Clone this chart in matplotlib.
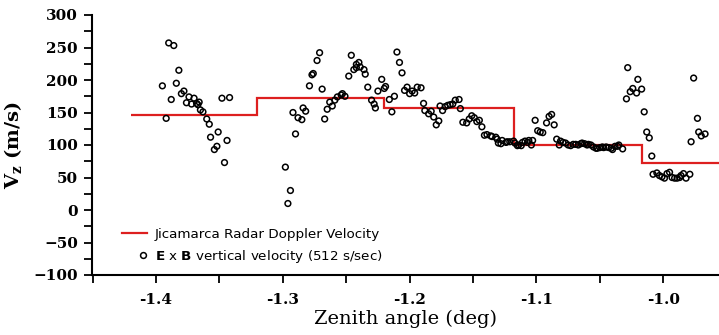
import matplotlib
matplotlib.use("Agg")
import matplotlib.pyplot as plt
from matplotlib.lines import Line2D
from matplotlib.legend_handler import HandlerLine2D
from matplotlib.ticker import MultipleLocator, FormatStrFormatter

# Radar Doppler vertical velocity: piecewise-constant over zenith-angle bins
radar_edges = [-1.42, -1.32, -1.22, -1.118, -1.017, -0.95]
radar_vz = [146, 172, 157, 100, 73]

# E x B vertical velocity samples (512 s/sec)
zenith = [
    -1.390, -1.386, -1.382, -1.395, -1.384, -1.388, -1.392, -1.380, -1.378, -1.374,
    -1.370, -1.376, -1.372, -1.368, -1.366, -1.367, -1.365, -1.363, -1.360, -1.358,
    -1.357, -1.351, -1.352, -1.354, -1.344, -1.346, -1.348, -1.342,
    -1.298, -1.294, -1.296, -1.292, -1.290, -1.288, -1.285, -1.284, -1.282, -1.279,
    -1.277, -1.276, -1.273, -1.271, -1.269, -1.267, -1.265, -1.263, -1.261, -1.259,
    -1.257, -1.254, -1.253, -1.251,
    -1.248, -1.246, -1.244, -1.242, -1.240, -1.242, -1.239, -1.236, -1.235, -1.233,
    -1.230, -1.228, -1.227, -1.225, -1.222, -1.220, -1.219, -1.216, -1.214, -1.212,
    -1.210, -1.208, -1.206, -1.204, -1.202, -1.200, -1.198, -1.196, -1.194, -1.191,
    -1.189, -1.188, -1.185, -1.183, -1.181, -1.179, -1.177, -1.176, -1.174, -1.172,
    -1.170, -1.168, -1.166, -1.164, -1.161, -1.160, -1.158, -1.155, -1.153, -1.151,
    -1.149, -1.147, -1.145, -1.143, -1.141, -1.139, -1.136, -1.135, -1.132, -1.131,
    -1.130,
    -1.128, -1.127, -1.124, -1.123, -1.121, -1.118, -1.117, -1.115, -1.114, -1.112,
    -1.111, -1.109, -1.107, -1.106, -1.104, -1.103, -1.101, -1.099, -1.097, -1.095,
    -1.092, -1.090, -1.088, -1.086, -1.084, -1.082, -1.081, -1.079, -1.077, -1.075,
    -1.073, -1.071, -1.069, -1.067, -1.065, -1.064, -1.062, -1.060, -1.059, -1.057,
    -1.055, -1.053, -1.052, -1.050, -1.048, -1.047, -1.045, -1.043, -1.041, -1.040,
    -1.038, -1.036, -1.035, -1.032,
    -1.029, -1.028, -1.026, -1.024, -1.021, -1.020, -1.017, -1.015, -1.013, -1.011,
    -1.009,
    -1.008, -1.005, -1.003, -1.001, -0.999, -0.997, -0.995, -0.993, -0.991, -0.989,
    -0.987, -0.986, -0.984, -0.982, -0.979,
    -0.978, -0.976, -0.973, -0.972, -0.970, -0.967,
]
exb_vz = [
    257, 253, 215, 191, 195, 170, 141, 179, 183, 174,
    172, 165, 163, 164, 166, 162, 154, 151, 140, 132,
    112, 120, 98, 93, 107, 73, 172, 173,
    66, 30, 10, 150, 117, 142, 139, 157, 152, 191,
    208, 210, 230, 242, 186, 140, 155, 166, 160, 169,
    174, 177, 179, 175,
    206, 238, 216, 224, 227, 219, 220, 216, 209, 189,
    169, 163, 157, 183, 201, 187, 190, 170, 151, 175,
    243, 227, 211, 184, 189, 179, 183, 180, 189, 188,
    164, 153, 148, 152, 143, 131, 137, 160, 153, 159,
    161, 162, 163, 169, 170, 156, 135, 134, 140, 145,
    142, 136, 138, 128, 115, 116, 114, 113, 112, 109,
    103,
    102, 107, 104, 105, 105, 106, 103, 99, 100, 99,
    104, 106, 104, 107, 100, 107, 138, 122, 120, 119,
    134, 144, 147, 131, 109, 100, 106, 104, 103, 100,
    99, 101, 101, 100, 102, 103, 102, 100, 101, 100,
    97, 95, 95, 96, 97, 96, 97, 96, 95, 93,
    98, 98, 100, 94,
    171, 219, 182, 187, 180, 201, 186, 151, 120, 111,
    83,
    55, 57, 53, 51, 49, 56, 58, 50, 49, 49,
    50, 53, 56, 49, 55,
    105, 203, 141, 120, 114, 117,
]

x_ticks_major = 0.1
x_ticks_minor = 0.05
y_ticks_major = 50
y_ticks_minor = 25

RED = "#dd1f1f"

plt.rcParams["mathtext.fontset"] = "custom"
plt.rcParams["mathtext.rm"] = "DejaVu Serif:bold"
plt.rcParams["mathtext.bf"] = "DejaVu Sans:bold"

fig = plt.figure(figsize=(7.19, 3.35), dpi=100)
ax = fig.add_axes([92 / 719, 60 / 335, 627 / 719, 260 / 335])

ax.stairs(radar_vz, radar_edges, baseline=None, color=RED, linewidth=1.6, zorder=2)
ax.scatter(zenith, exb_vz, s=17, facecolors="none", edgecolors="black",
           linewidths=1.1, zorder=3)

ax.set_xlim(-1.4505, -0.956)
ax.set_ylim(-100, 300)

for side in ("top", "right"):
    ax.spines[side].set_visible(False)
for side in ("left", "bottom"):
    ax.spines[side].set_linewidth(1.5)

ax.xaxis.set_major_locator(MultipleLocator(x_ticks_major))
ax.xaxis.set_minor_locator(MultipleLocator(x_ticks_minor))
ax.xaxis.set_major_formatter(FormatStrFormatter("%.1f"))
ax.yaxis.set_major_locator(MultipleLocator(y_ticks_major))
ax.yaxis.set_minor_locator(MultipleLocator(y_ticks_minor))

tick_font = dict(family="DejaVu Serif", weight="bold", size=11)
ax.tick_params(which="both", direction="out", length=6, width=1.3)
ax.tick_params(axis="x", pad=7)
ax.tick_params(axis="y", pad=4)
for lab in ax.get_xticklabels() + ax.get_yticklabels():
    lab.set_fontproperties(tick_font)
    lab.set_fontweight("bold")

ax.set_xlabel("Zenith angle (deg)", family="DejaVu Serif", fontsize=14,
              labelpad=2)
ax.set_ylabel(r"V$_{\mathrm{z}}$ (m/s)", family="DejaVu Serif",
              fontweight="bold", fontsize=14, labelpad=6)

handles = [
    Line2D([], [], color=RED, linewidth=1.6),
    Line2D([], [], linestyle="none", marker="o", markersize=4.2,
           markerfacecolor="none", markeredgecolor="black", markeredgewidth=1.1),
]
labels = [
    "Jicamarca Radar Doppler Velocity",
    r"$\mathbf{E}$ x $\mathbf{B}$ vertical velocity (512 s/sec)",
]
ax.legend(handles, labels, loc="center left", bbox_to_anchor=(0.048, 0.11),
          frameon=False, prop=dict(family="DejaVu Sans", size=9.7),
          handlelength=1.85, handletextpad=0.6, borderpad=0, borderaxespad=0,
          labelspacing=0.5,
          handler_map={handles[1]: HandlerLine2D(numpoints=1, xpad=1.2)})

fig.savefig("out.png", dpi=100)
